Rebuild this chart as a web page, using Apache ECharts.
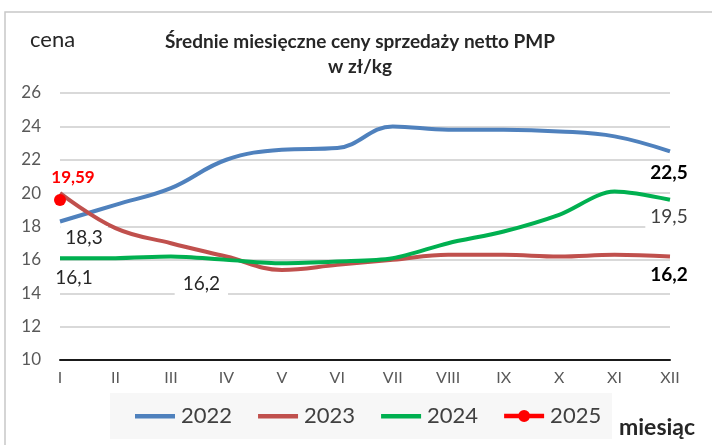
<!DOCTYPE html>
<html>
<head>
<meta charset="utf-8">
<script src="https://cdn.jsdelivr.net/npm/echarts@6/dist/echarts.min.js"></script>
<style>
  html, body { margin: 0; padding: 0; background: #fff; }
  #chart { width: 712px; height: 445px; }
</style>
</head>
<body>
<div id="chart"></div>
<script>
const months = ['I', 'II', 'III', 'IV', 'V', 'VI', 'VII', 'VIII', 'IX', 'X', 'XI', 'XII'];
const y2022 = [18.3, 19.3, 20.3, 22.0, 22.6, 22.7, 24.0, 23.8, 23.8, 23.7, 23.4, 22.5];
const y2023 = [20.0, 17.9, 17.0, 16.2, 15.4, 15.7, 16.0, 16.3, 16.3, 16.2, 16.3, 16.2];
const y2024 = [16.1, 16.1, 16.2, 16.0, 15.8, 15.9, 16.1, 17.0, 17.7, 18.7, 20.1, 19.6];
const y2025 = [19.59];
const yTicks = [10, 12, 14, 16, 18, 20, 22, 24, 26];

const FONT = 'Lato, "Open Sans", sans-serif';

// ikony legendy: kreska (+ kropka dla 2025), z niewidocznymi punktami trzymającymi wysokość
const ICON_LINE = 'path://M0,0h0.05v0.05h-0.05z M0,4h40v4.4h-40z M0,11.95h0.05v0.05h-0.05z';
const ICON_DOT = 'path://M0,4h40v4.4h-40z M14,6.2a6,6 0 1,1 12,0a6,6 0 1,1 -12,0z';

// etykieta przy punkcie (środek etykiety przesunięty o offset od punktu)
function pointLabel(x, y, text, offset, extra) {
    return {
        coord: [x, y],
        label: Object.assign({
            show: true, formatter: text, position: 'inside', offset: offset,
            fontFamily: FONT, fontSize: 19, color: '#262626',
            backgroundColor: '#fff', padding: [2, 5]
        }, extra || {})
    };
}

const chart = echarts.init(document.getElementById('chart'));

let option = {
    backgroundColor: '#fff',
    animation: false,
    textStyle: {fontFamily: FONT},
    title: {
        text: 'Średnie miesięczne ceny sprzedaży netto PMP\nw zł/kg',
        left: 355,
        textAlign: 'center',
        top: 24,
        textStyle: {fontSize: 19, fontWeight: 'bold', color: '#262626', lineHeight: 25, fontFamily: FONT}
    },
    graphic: [
        {type: 'rect', shape: {x: 5, y: 12, width: 720, height: 450}, style: {fill: 'none', stroke: '#c8c8c8', lineWidth: 1.5}},
        {type: 'text', left: 30, top: 29, style: {text: 'cena', font: '22px ' + FONT, fill: '#262626'}},
        {type: 'text', left: 619, top: 416, style: {text: 'miesiąc', font: 'bold 23px ' + FONT, fill: '#262626'}},
        {type: 'rect', z: -1, shape: {x: 110, y: 393, width: 502, height: 46}, style: {fill: '#f7f7f7'}}
    ],
    legend: {
        left: 130,
        top: 400,
        itemWidth: 42,
        itemHeight: 12,
        itemGap: 26,
        textStyle: {fontSize: 22, color: '#404040', fontFamily: FONT},
        data: [
            {name: '2022', icon: ICON_LINE},
            {name: '2023', icon: ICON_LINE},
            {name: '2024', icon: ICON_LINE},
            {name: '2025', icon: ICON_DOT}
        ]
    },
    grid: {left: 60, right: 42, top: 93, bottom: 85},
    xAxis: {
        type: 'category',
        boundaryGap: false,
        data: months,
        axisLine: {show: true, lineStyle: {color: '#1a1a1a', width: 2}},
        axisTick: {show: false},
        axisLabel: {color: '#595959', fontSize: 16, margin: 10, fontFamily: FONT}
    },
    yAxis: {
        type: 'value',
        min: yTicks[0],
        max: yTicks[yTicks.length - 1],
        interval: 2,
        axisLine: {show: false},
        axisTick: {show: false},
        axisLabel: {color: '#595959', fontSize: 17, margin: 19, fontFamily: FONT},
        splitLine: {lineStyle: {color: '#cccccc', width: 1.6}}
    },
    series: [
        {
            name: '2022', type: 'line', smooth: 0.4, symbol: 'none',
            lineStyle: {color: '#4F81BD', width: 4}, itemStyle: {color: '#4F81BD'},
            data: y2022,
            markPoint: {
                symbol: 'circle', symbolSize: 1, itemStyle: {color: 'transparent'},
                data: [
                    pointLabel(months[0], y2022[0], '18,3', [24, 16]),
                    pointLabel(months[11], y2022[11], '22,5', [-1, 21], {fontWeight: 'bold', color: '#000'})
                ]
            }
        },
        {
            name: '2023', type: 'line', smooth: 0.4, symbol: 'none',
            lineStyle: {color: '#C0504D', width: 4}, itemStyle: {color: '#C0504D'},
            data: y2023,
            markPoint: {
                symbol: 'circle', symbolSize: 1, itemStyle: {color: 'transparent'},
                data: [
                    pointLabel(months[3], y2023[3], '16,2', [-25, 27], {padding: [2, 8]}),
                    pointLabel(months[11], y2023[11], '16,2', [-1, 18], {fontWeight: 'bold', color: '#000'})
                ]
            }
        },
        {
            name: '2024', type: 'line', smooth: 0.3, symbol: 'none',
            lineStyle: {color: '#00B050', width: 4}, itemStyle: {color: '#00B050'},
            data: y2024,
            markPoint: {
                symbol: 'circle', symbolSize: 1, itemStyle: {color: 'transparent'},
                data: [
                    pointLabel(months[0], y2024[0], '16,1', [14, 20]),
                    pointLabel(months[11], y2024[11], '19,5', [-1, 17], {color: '#404040'})
                ]
            }
        },
        {
            name: '2025', type: 'line', symbol: 'circle', symbolSize: 12,
            lineStyle: {color: '#FF0000', width: 4}, itemStyle: {color: '#FF0000'},
            data: y2025,
            label: {
                show: true, formatter: '19,59', position: 'top', offset: [13, -3],
                fontSize: 17, fontWeight: 'bold', color: '#FF0000', fontFamily: FONT
            }
        }
    ]
};
option && chart.setOption(option);
</script>
</body>
</html>
